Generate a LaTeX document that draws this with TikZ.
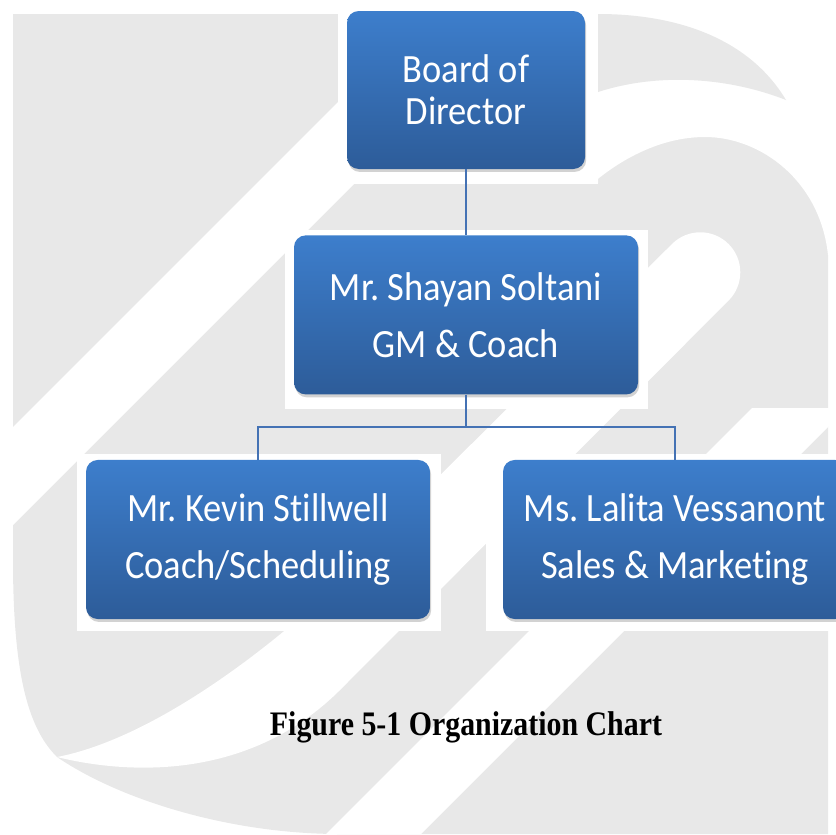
\documentclass[tikz,border=0pt]{standalone}
\usepackage{graphicx}
\usepackage{fontspec}
\setmainfont{Liberation Serif}
\newfontfamily\boxfont{Carlito}[Ligatures={NoCommon,NoRequired,NoContextual}]
\usetikzlibrary{
  positioning,
  shadows
}
\definecolor{boxtopcolor}{RGB}{61, 126, 204}
\definecolor{boxbottomcolor}{RGB}{45, 92, 153}
\definecolor{linkcolor}{RGB}{68, 114, 180}
\definecolor{markcolor}{RGB}{232, 232, 232}
\newcommand{\tallline}[1]{\scalebox{1}[1.1]{#1}}
\tikzset{
boxtext/.style={
  align=center,
  text=white,
  font=\boxfont\frenchspacing\fontsize{31}{48.5}\selectfont
},
orgblock/.style={
  rounded corners=10pt,
  top color=boxtopcolor,
  bottom color=boxbottomcolor,
  minimum width=292.4pt,
  minimum height=135.2pt,
  inner sep=0pt,
  drop shadow={shadow xshift=1pt, shadow yshift=-2.5pt, opacity=0.35},
  boxtext
},
topblock/.style={
  orgblock,
  minimum width=202.3pt,
  minimum height=134.3pt,
  font=\boxfont\frenchspacing\fontsize{31}{35.7}\selectfont
},
link/.style={
  draw=linkcolor,
  line width=1.1pt
},
watermark/.style={
  fill=markcolor
},
paper/.style={
  fill=white
},
captiontext/.style={
  font=\fontsize{25.4}{30}\selectfont\bfseries,
  text=black
}
}
\begin{document}
\begin{tikzpicture}[x=0.85pt, y=-0.85pt]
  \clip (0,0) rectangle (836,834);
  % logo behind the chart
  \fill[watermark] (13,14) -- (828,14) -- (828,834) -- (340,834)
    .. controls (230,834) and (120,800) .. (57,757)
    .. controls (30,730) and (13,680) .. (13,560) -- cycle;
  \fill[paper] (440,0) -- (538,0) -- (0,538) -- (0,440) -- cycle;
  \fill[paper] (752,408) -- (847,408) -- (421,834) -- (326,834) -- cycle;
  \fill[paper] (283,632) -- (672,244) arc[start angle=225, end angle=405, radius=40]
    -- (340,690) .. controls (250,780) and (130,775) .. (57,757)
    .. controls (120,745) and (200,700) .. (283,632) -- cycle;
  \fill[paper] (598,0) -- (836,0) -- (836,255) -- (828,255)
    .. controls (820,180) and (760,137) .. (705,137)
    .. controls (660,137) and (620,160) .. (593,183) -- (598,183) -- cycle;
  \fill[watermark] (598,14) .. controls (680,14) and (750,40) .. (786,100)
    .. controls (730,78) and (660,72) .. (598,92) -- cycle;
  % white ground of the chart
  \fill[paper] (338,0) rectangle (598,184);
  \fill[paper] (285,230) rectangle (648,409);
  \fill[paper] (77,454) rectangle (441,631);
  \fill[paper] (486,454) rectangle (836,631);

  \node[topblock] (board) at (466,90) {\tallline{Board of}\\\tallline{Director}};
  \node[orgblock, below=56pt of board] (gm) {\tallline{Mr. Shayan Soltani}\\\tallline{GM \& Coach}};
  \node[orgblock] (kevin) at (258,539.5) {\tallline{Mr. Kevin Stillwell}\\\tallline{Coach/Scheduling}};
  \node[orgblock] (lalita) at (675,539.5) {\tallline{Ms. Lalita Vessanont}\\\tallline{Sales \& Marketing}};
  \coordinate (fork) at (466,427);

  \draw[link] (board) -- (gm);
  \draw[link] (gm) -- (fork);
  \draw[link] (fork) -| (kevin);
  \draw[link] (fork) -| (lalita);

  \node[captiontext, anchor=base] (caption) at (466,735) {\scalebox{1}[1.15]{Figure 5-1 Organization Chart}};
\end{tikzpicture}
\end{document}
